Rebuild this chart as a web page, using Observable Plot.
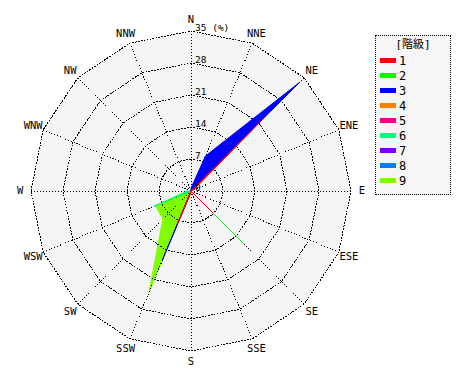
<!DOCTYPE html>
<html><head><meta charset="utf-8">
<script src="https://cdn.jsdelivr.net/npm/d3@7"></script>
<script src="https://cdn.jsdelivr.net/npm/@observablehq/plot@0.6"></script>
<style>
body{margin:0;background:#fff;}
#wrap{position:relative;width:470px;height:380px;}
#legend{position:absolute;left:375px;top:35px;width:74px;height:158px;border:1px dotted #000;background:#f6f6f6;font-family:"DejaVu Sans Mono","Noto Sans CJK JP",monospace;font-size:12px;color:#000;}
#legend .title{position:absolute;left:0;width:74px;top:2px;text-align:center;font-size:11px;line-height:14px;}
#legend .item{position:absolute;left:4px;height:14px;line-height:14px;}
#legend .sw{display:inline-block;width:16px;height:5px;vertical-align:middle;margin-right:3px;position:relative;top:-1px;}
</style></head><body><div id="wrap"></div>
<script>
const directions = ["N","NNE","NE","ENE","E","ESE","SE","SSE","S","SSW","SW","WSW","W","WNW","NW","NNW"];
const classes = ["1","2","3","4","5","6","7","8","9"];
const classColors = ["#ff0000","#00ff00","#0000ff","#ff8000","#ff0080","#00ff80","#8000ff","#0080ff","#80ff00"];
//            N    NNE  NE    ENE  E  ESE SE    SSE S    SSW   SW   WSW  W    WNW NW NNW
const s1 = [0,   0,   24.5, 0.6, 0, 0,  6.8,  0,  0.3, 7.9,  0,   0,   0,   0,  0, 0];
const s2 = [0,   0,   0,    0,   0, 0,  16.4, 0,  0,   0,    0,   0,   0,   0,  0, 0];
const s3 = [0.6, 8.3, 33.7, 0,   0, 0,  0,    0,  0.3, 16.3, 0,   0,   0,   0,  0, 0];
const s4 = [0,   0,   0,    0,   0, 0,  0,    0,  0,   0,    0,   0,   0,   0,  0, 0];
const s5 = [0,   0,   0,    0,   0, 0,  0,    0,  0,   0,    0,   0,   0,   0,  0, 0];
const s6 = [0,   0,   0,    0,   0, 0,  0,    0,  0,   0,    0,   8.7, 0.8, 0,  0, 0];
const s7 = [0,   0,   0,    0,   0, 0,  0,    0,  0,   0,    0,   0,   0,   0,  0, 0];
const s8 = [0,   0,   0,    0,   0, 0,  0,    0,  0,   0,    0,   0,   0,   0,  0, 0];
const s9 = [0,   0,   0,    0,   0, 0,  0,    0,  0,   24.0, 8.7, 8.4, 0.3, 0,  0, 0];
const ringTicks = [0, 7, 14, 21, 28, 35];
const rMax = 35;
const unitLabel = "(%)";

const seriesValues = [s1, s2, s3, s4, s5, s6, s7, s8, s9];
const ang = i => i * Math.PI / 8;
const pt = (r, i) => ({x: r * Math.sin(ang(i)), y: r * Math.cos(ang(i))});
const poly = vals => vals.map((v, i) => pt(v, i));
const ring = r => directions.map((d, i) => pt(r, i));

const gridMarks = [
  ...ringTicks.filter(r => r > 0).map(r => Plot.line(ring(r), {x: "x", y: "y", curve: "linear-closed", stroke: "#000", strokeWidth: 1, strokeDasharray: "1,2", shapeRendering: "crispEdges"})),
  Plot.link(directions.map((d, i) => ({d, ...pt(rMax, i)})), {x1: () => 0, y1: () => 0, x2: "x", y2: "y", stroke: "#000", strokeWidth: 1, strokeDasharray: "1,2", shapeRendering: "crispEdges"})
];

const seriesMark = k => Plot.line(poly(seriesValues[k]), {x: "x", y: "y", curve: "linear-closed", fill: classColors[k], stroke: classColors[k], strokeWidth: 1, strokeLinecap: "butt", strokeLinejoin: "miter"});

const marks = [
  Plot.line(ring(rMax), {x: "x", y: "y", curve: "linear-closed", fill: "#f5f5f5", stroke: "none"}),
  seriesMark(8),
  ...gridMarks,
  ...[7, 6, 5, 4, 3, 2, 1, 0].map(seriesMark),
  Plot.text(ringTicks, {x: () => 0, y: d => d, text: d => d === rMax ? d + " " + unitLabel : String(d), textAnchor: "start", lineAnchor: "bottom", dx: 4, dy: 0, fontSize: 9.5, fontFamily: "DejaVu Sans Mono", fill: "#000"}),
  Plot.text(directions.map((d, i) => ({d, ...pt(rMax * 1.068, i)})), {x: "x", y: "y", text: "d", textAnchor: "middle", lineAnchor: "middle", fontSize: 10.5, fontFamily: "DejaVu Sans Mono", fill: "#000"})
];

const chart = Plot.plot({
  width: 470, height: 380,
  marginLeft: 30.5, marginRight: 119.5, marginTop: 30.5, marginBottom: 29.5,
  x: {domain: [-rMax, rMax], axis: null},
  y: {domain: [-rMax, rMax], axis: null},
  style: {background: "#fff", overflow: "visible"},
  marks
});
const wrap = document.getElementById("wrap");
wrap.appendChild(chart);

const legend = document.createElement("div");
legend.id = "legend";
const title = document.createElement("div");
title.className = "title";
title.textContent = "[階級]";
legend.appendChild(title);
classes.forEach((c, k) => {
  const it = document.createElement("div");
  it.className = "item";
  it.style.top = (18 + k * 15) + "px";
  const sw = document.createElement("span");
  sw.className = "sw";
  sw.style.background = classColors[k];
  it.appendChild(sw);
  it.appendChild(document.createTextNode(c));
  legend.appendChild(it);
});
wrap.appendChild(legend);
</script></body></html>
